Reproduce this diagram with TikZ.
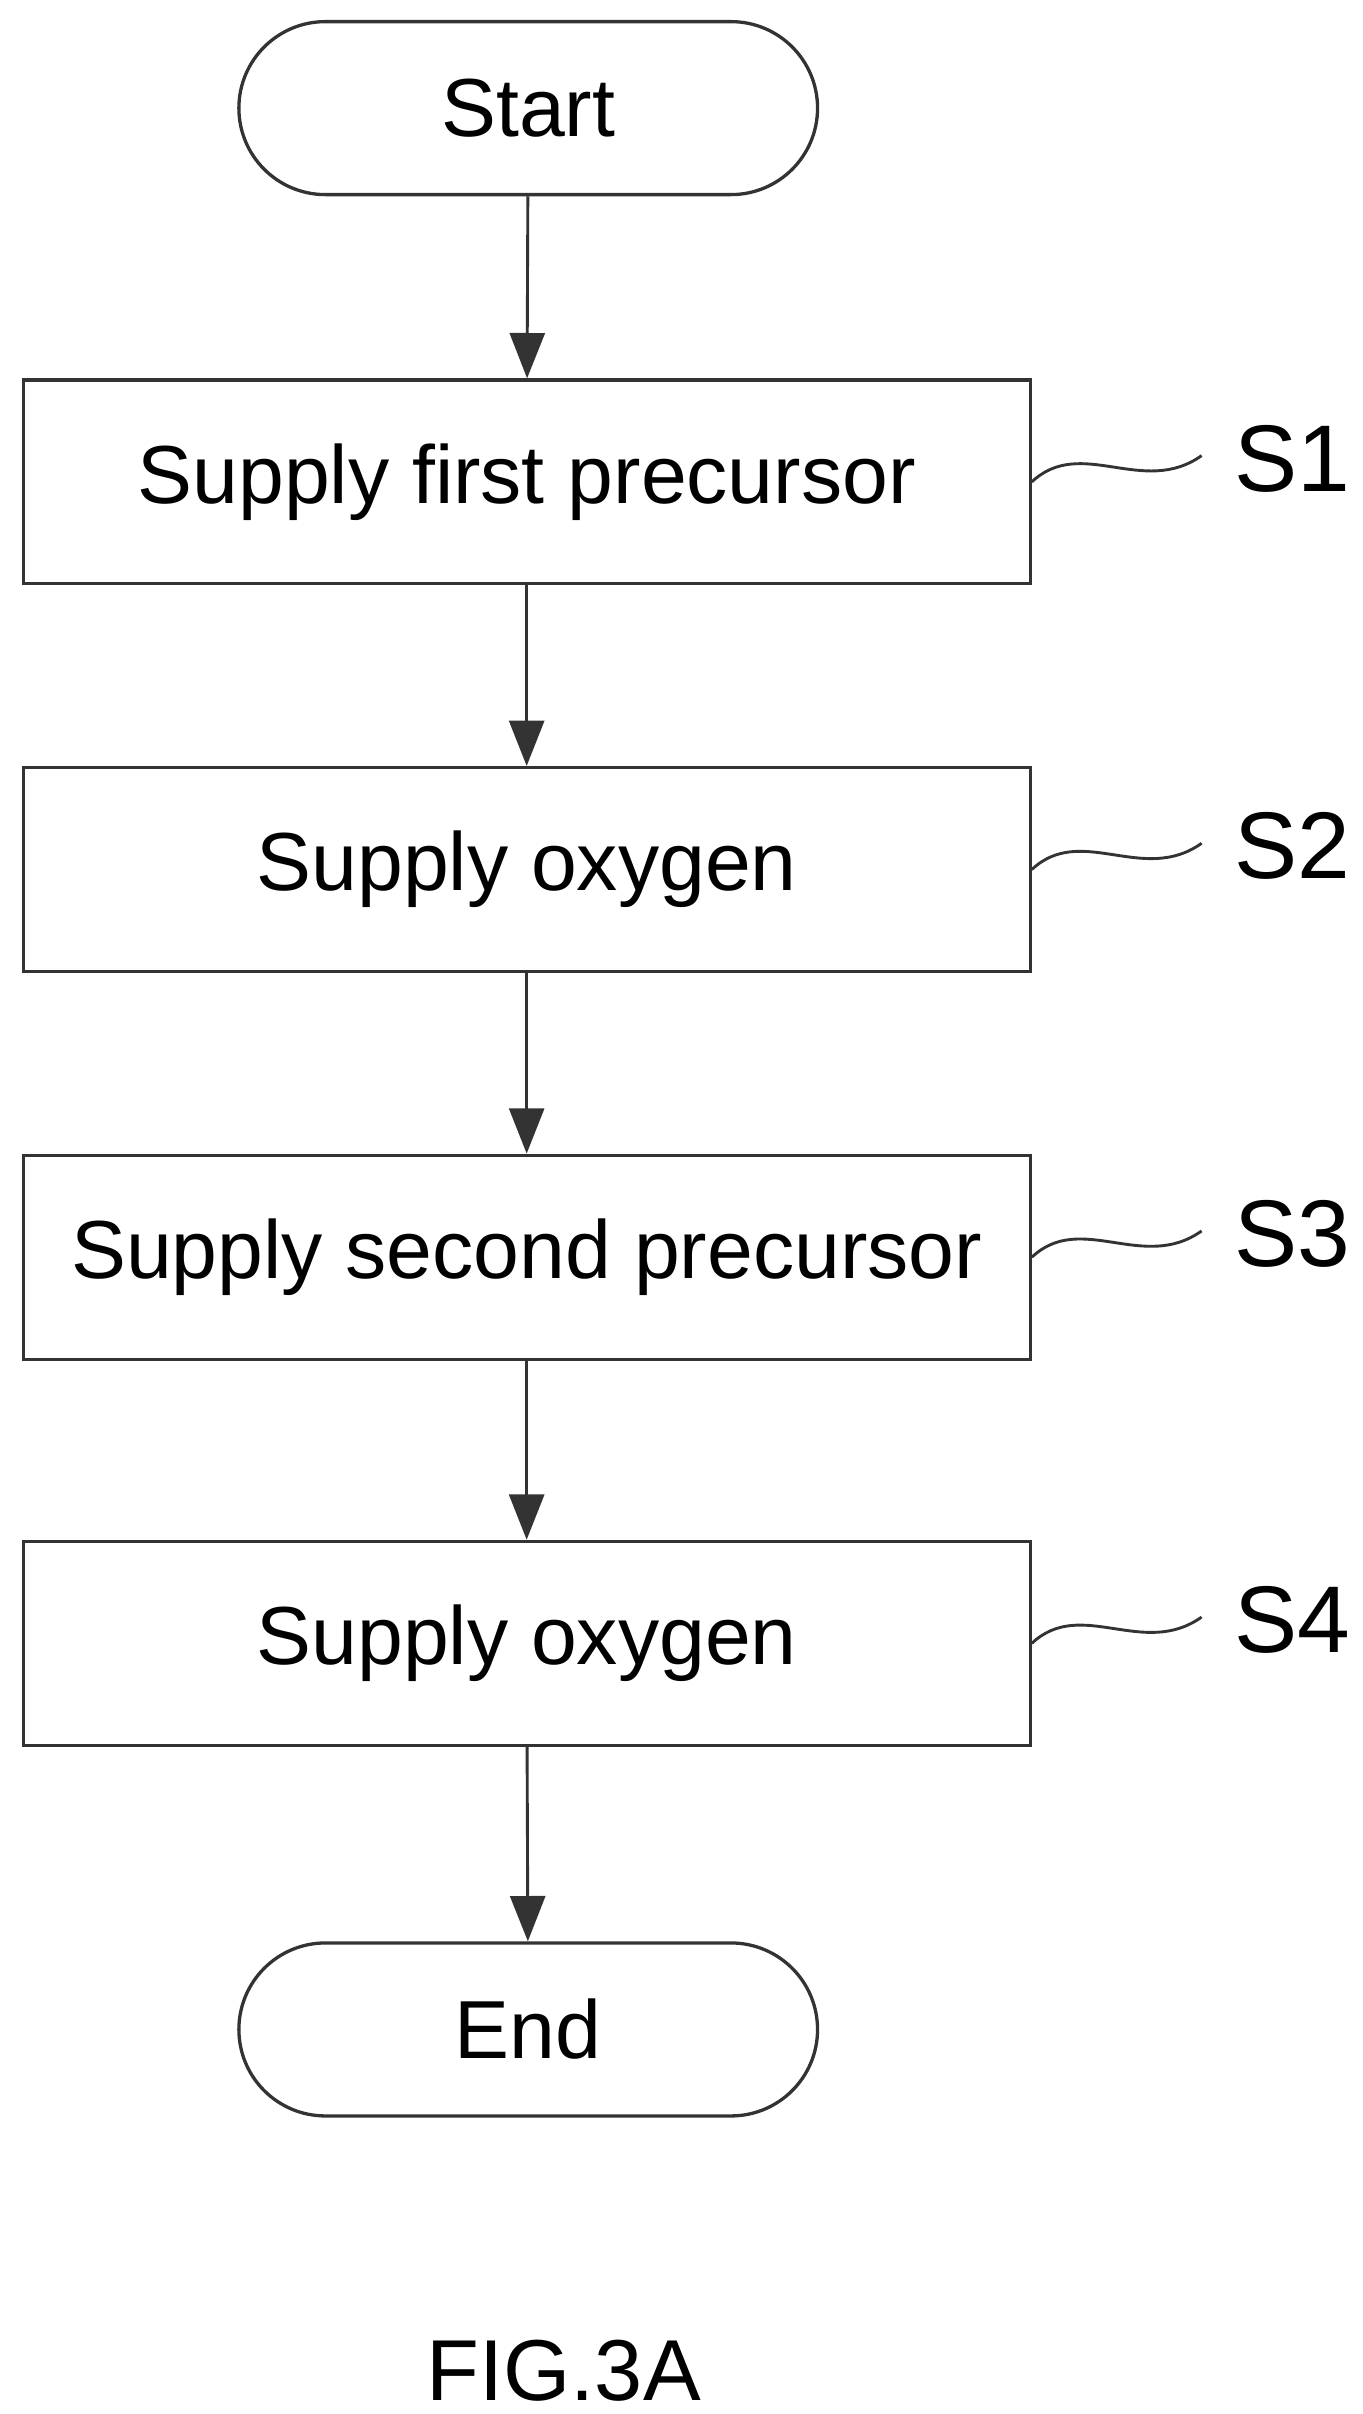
\documentclass[tikz,border=0pt]{standalone}
\usepackage{fontspec}
\setmainfont{Liberation Sans}
\usetikzlibrary{arrows.meta}
\begin{document}
\begin{tikzpicture}[x=0.75pt,y=-0.75pt,
  box/.style={draw=black!80,line width=1.6pt,minimum width=489pt,minimum height=99pt,inner sep=0pt,font=\fontsize{40}{48}\selectfont},
  term/.style={draw=black!80,line width=1.6pt,rounded corners=42pt,minimum width=281pt,minimum height=84pt,inner sep=0pt,font=\fontsize{40}{48}\selectfont},
  arr/.style={draw=black!80,line width=1.4pt,-{Triangle[length=22pt,width=17pt]}},
  lbl/.style={font=\fontsize{46}{54}\selectfont,anchor=center},
  wave/.style={draw=black!80,line width=1.4pt}]
\useasboundingbox (0,0) rectangle (882,1563);
\node[term] (start) at (342,70) {Start};
\node[box] (s1) at (341,312) {Supply first precursor};
\node[box] (s2) at (341,563) {Supply oxygen};
\node[box] (s3) at (341,814) {Supply second precursor};
\node[box] (s4) at (341,1064) {Supply oxygen};
\node[term] (end) at (342,1314) {End};
\draw[arr] (start) -- (s1);
\draw[arr] (s1) -- (s2);
\draw[arr] (s2) -- (s3);
\draw[arr] (s3) -- (s4);
\draw[arr] (s4) -- (end);
\foreach \n/\y in {1/312,2/563,3/814,4/1064}{
  \coordinate (w\n) at (778,\y-17);
  \node[lbl] (l\n) at (837,\y-15) {S\n};
  \draw[wave] (s\n.east) .. controls (700,\y-30) and (740,\y+10) .. (w\n);
}
\node[font=\fontsize{42}{50}\selectfont] (fig) at (365,1535) {FIG.3A};
\end{tikzpicture}
\end{document}
